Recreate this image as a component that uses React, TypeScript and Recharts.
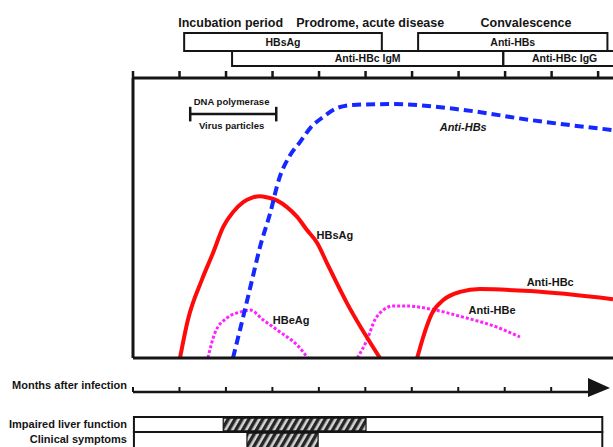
import React from 'react'
import { ComposedChart, Line, XAxis, YAxis, ReferenceArea, ReferenceLine, ReferenceDot } from 'recharts'

// months after infection, x axis runs a little past 10
const X_MAX = 10.32
const monthTicks = [0, 1, 2, 3, 4, 5, 6, 7, 8, 9, 10]

const phases = [
  { name: 'Incubation period', start: 0.9, end: 3.3 },
  { name: 'Prodrome, acute disease', start: 3.4, end: 6.8 },
  { name: 'Convalescence', start: 7.0, end: 9.9 },
]

// serology windows shown above the plot (row 0 = upper, row 1 = lower)
const markerWindows = [
  { name: 'HBsAg', start: 1.1, end: 5.35, row: 0 },
  { name: 'Anti-HBs', start: 6.13, end: 10.2, row: 0 },
  { name: 'Anti-HBc IgM', start: 2.13, end: 7.96, row: 1 },
  { name: 'Anti-HBc IgG', start: 7.96, end: 10.6, row: 1 },
]

// relative levels (0-100) against months
const hbsAg = [
  { m: 1.01, v: 0 }, { m: 1.18, v: 13.6 }, { m: 1.48, v: 27.9 }, { m: 1.72, v: 37.5 },
  { m: 1.94, v: 46.8 }, { m: 2.15, v: 52.1 }, { m: 2.37, v: 55.7 }, { m: 2.55, v: 57.2 },
  { m: 2.72, v: 57.8 }, { m: 2.9, v: 57.3 }, { m: 3.1, v: 56.2 }, { m: 3.31, v: 53.9 },
  { m: 3.53, v: 50.4 }, { m: 3.74, v: 45.7 }, { m: 3.96, v: 41.1 }, { m: 4.17, v: 33.9 },
  { m: 4.6, v: 19.6 }, { m: 5.31, v: 0 },
]
const antiHBc = [
  { m: 6.11, v: 0 }, { m: 6.24, v: 7.5 }, { m: 6.43, v: 16 }, { m: 6.67, v: 20.7 },
  { m: 7.03, v: 23.6 }, { m: 7.46, v: 24.6 }, { m: 8.54, v: 23.9 }, { m: 10.32, v: 21 },
]
const hbeAg = [
  { m: 1.61, v: 0 }, { m: 1.76, v: 8.9 }, { m: 2.02, v: 14.3 }, { m: 2.3, v: 16.4 },
  { m: 2.52, v: 17.1 }, { m: 2.8, v: 13.6 }, { m: 3.16, v: 9.3 }, { m: 3.53, v: 4.6 },
  { m: 3.76, v: 0 },
]
const antiHBe = [
  { m: 4.82, v: 0 }, { m: 5.03, v: 6.4 }, { m: 5.2, v: 13.6 }, { m: 5.38, v: 17.1 },
  { m: 5.59, v: 18.6 }, { m: 5.89, v: 18.6 }, { m: 6.39, v: 17.5 }, { m: 7.1, v: 14.6 },
  { m: 7.83, v: 11 }, { m: 8.32, v: 7.5 },
]
const antiHBs = [
  { m: 2.15, v: 0 }, { m: 2.41, v: 17.5 }, { m: 2.56, v: 27.9 }, { m: 2.73, v: 39.6 },
  { m: 2.95, v: 51.8 }, { m: 3.14, v: 63.9 }, { m: 3.38, v: 72.5 }, { m: 3.59, v: 77.1 },
  { m: 3.81, v: 82.1 }, { m: 4.09, v: 86.1 }, { m: 4.39, v: 89.3 }, { m: 4.73, v: 90.4 },
  { m: 5.59, v: 90.7 }, { m: 7.1, v: 88.6 }, { m: 8.54, v: 85 }, { m: 10.32, v: 81.4 },
]

// DNA polymerase / virus particles window
const viremia = { start: 1.23, end: 3.08, level: 87.1 }

const clinicalRows = ['Impaired liver function', 'Clinical symptoms']
const clinicalSpans = [
  { row: 0, start: 1.94, end: 5.01 },
  { row: 1, start: 2.45, end: 3.98 },
]

const INK = '#151515'
const FONT = '"Liberation Sans", Arial, sans-serif'

// axis frame data so the helper charts have something to lay out
const frame = monthTicks.map((m) => ({ m }))
const NoTick = () => <g />

function tag(key: string, x: number, y: number, text: string, size = 11, extra: any = {}) {
  return (
    <ReferenceDot
      key={key}
      x={x}
      y={y}
      r={0}
      fill="none"
      stroke="none"
      ifOverflow="visible"
      label={{ value: text, position: 'center', fill: INK, fontSize: size, fontWeight: 700, ...extra }}
    />
  )
}

const sideLabel = (text: string, dy: number) => (p: any) => (
  <text x={p.x} y={p.y} dy={dy} textAnchor="end" fill={INK} fontSize={11} fontWeight={700}>
    {text}
  </text>
)

const HEADER_ROWS = [[1.17, 2.17], [0.33, 1.17]]
const BAR_ROWS = [[1, 2], [-1, 1]]

export default function App() {
  return (
    <div style={{ position: 'absolute', left: 0, top: 0, width: 613, height: 447, overflow: 'hidden', background: '#fff', fontFamily: FONT }}>
      <svg width="0" height="0" style={{ position: 'absolute' }}>
        <defs>
          <pattern id="hatch" patternUnits="userSpaceOnUse" width="6" height="6" patternTransform="rotate(30)">
            <rect width="6" height="6" fill="#d4d4d4" />
            <rect width="3.4" height="6" fill="#262626" />
          </pattern>
        </defs>
      </svg>

      {/* phases and serology windows */}
      <div style={{ position: 'absolute', left: 0, top: 0 }}>
        <ComposedChart width={613} height={72} data={frame} margin={{ top: 0, right: 0, bottom: 0, left: 133 }}>
          <XAxis type="number" dataKey="m" domain={[0, X_MAX]} allowDataOverflow hide />
          <YAxis type="number" domain={[0, 4]} allowDataOverflow hide />
          {phases.map((p) => tag(p.name, (p.start + p.end) / 2, 2.72, p.name, 12.5))}
          {markerWindows.map((w) => (
            <ReferenceArea
              key={w.name}
              x1={w.start}
              x2={w.end}
              y1={HEADER_ROWS[w.row][0]}
              y2={HEADER_ROWS[w.row][1]}
              fill="none"
              fillOpacity={0}
              stroke={INK}
              strokeWidth={2}
              strokeOpacity={1}
              ifOverflow="visible"
              label={{ value: w.name, position: 'center', fill: INK, fontSize: 10.5, fontWeight: 700 }}
            />
          ))}
        </ComposedChart>
      </div>

      {/* main plot */}
      <div style={{ position: 'absolute', left: 0, top: 64 }}>
        <ComposedChart width={613} height={296} margin={{ top: 0, right: 0, bottom: 1, left: 132 }}>
          <XAxis
            xAxisId="top"
            orientation="top"
            type="number"
            dataKey="m"
            domain={[0, X_MAX]}
            allowDataOverflow
            ticks={monthTicks}
            interval={0}
            tick={NoTick}
            tickSize={7}
            height={14}
            axisLine={{ stroke: INK, strokeWidth: 3 }}
            tickLine={{ stroke: INK, strokeWidth: 2.5 }}
          />
          <XAxis
            type="number"
            dataKey="m"
            domain={[0, X_MAX]}
            allowDataOverflow
            tick={NoTick}
            tickLine={false}
            height={1}
            axisLine={{ stroke: INK, strokeWidth: 3 }}
          />
          <YAxis type="number" domain={[0, 100]} allowDataOverflow width={1} tick={NoTick} tickLine={false} axisLine={{ stroke: INK, strokeWidth: 3 }} />

          <Line data={hbeAg} dataKey="v" type="monotone" stroke="#ff22ff" strokeWidth={3} strokeDasharray="3 2" dot={false} isAnimationActive={false} />
          <Line data={antiHBe} dataKey="v" type="monotone" stroke="#ff22ff" strokeWidth={3} strokeDasharray="3 2" dot={false} isAnimationActive={false} />
          <Line data={hbsAg} dataKey="v" type="monotone" stroke="#ff0a0a" strokeWidth={4} dot={false} isAnimationActive={false} />
          <Line data={antiHBc} dataKey="v" type="monotone" stroke="#ff0a0a" strokeWidth={4} dot={false} isAnimationActive={false} />
          <Line data={antiHBs} dataKey="v" type="monotone" stroke="#1428ff" strokeWidth={4} strokeDasharray="9 5" dot={false} isAnimationActive={false} />

          <ReferenceLine segment={[{ x: viremia.start, y: viremia.level }, { x: viremia.end, y: viremia.level }]} stroke={INK} strokeWidth={2.5} ifOverflow="visible" />
          <ReferenceLine segment={[{ x: viremia.start, y: viremia.level - 2.6 }, { x: viremia.start, y: viremia.level + 2.6 }]} stroke={INK} strokeWidth={2.5} ifOverflow="visible" />
          <ReferenceLine segment={[{ x: viremia.end, y: viremia.level - 2.6 }, { x: viremia.end, y: viremia.level + 2.6 }]} stroke={INK} strokeWidth={2.5} ifOverflow="visible" />
          {tag('dna', 2.12, 91.4, 'DNA polymerase', 9.5)}
          {tag('virus', 2.12, 82.9, 'Virus particles', 9.5)}

          {tag('l-antihbs', 7.1, 82.5, 'Anti-HBs', 11, { fontStyle: 'italic' })}
          {tag('l-hbsag', 4.34, 43.9, 'HBsAg')}
          {tag('l-hbeag', 3.4, 13.6, 'HBeAg')}
          {tag('l-antihbc', 8.97, 27.1, 'Anti-HBc')}
          {tag('l-antihbe', 7.72, 17.1, 'Anti-HBe')}
        </ComposedChart>
      </div>

      {/* months after infection axis */}
      <div style={{ position: 'absolute', left: 0, top: 372 }}>
        <ComposedChart width={613} height={30} data={frame} margin={{ top: 14, right: 20, bottom: 0, left: 0 }}>
          <XAxis
            orientation="top"
            type="number"
            dataKey="m"
            domain={[0, 9.9]}
            allowDataOverflow
            ticks={monthTicks.slice(0, 10)}
            interval={0}
            tick={NoTick}
            tickSize={5}
            height={6}
            axisLine={{ stroke: INK, strokeWidth: 2.5 }}
            tickLine={{ stroke: INK, strokeWidth: 2 }}
          />
          <YAxis
            type="number"
            domain={[0, 1]}
            allowDataOverflow
            ticks={[1]}
            interval={0}
            width={133}
            tickSize={6}
            tickMargin={0}
            axisLine={false}
            tickLine={false}
            tick={sideLabel('Months after infection', -3)}
          />
          <ReferenceDot
            x={9.9}
            y={1}
            r={0}
            ifOverflow="visible"
            shape={(p: any) => (
              <path d={`M${p.cx - 5},${p.cy - 14} L${p.cx + 17},${p.cy - 4} L${p.cx - 5},${p.cy + 5} Z`} fill={INK} />
            )}
          />
        </ComposedChart>
      </div>

      {/* liver function / symptoms */}
      <div style={{ position: 'absolute', left: 0, top: 415 }}>
        <ComposedChart width={613} height={32} data={frame} margin={{ top: 2, right: 0, bottom: 0, left: 0 }}>
          <XAxis type="number" dataKey="m" domain={[0, X_MAX]} allowDataOverflow hide />
          <YAxis
            type="number"
            domain={[0, 2]}
            allowDataOverflow
            ticks={[1.5, 0.5]}
            interval={0}
            width={133}
            tickSize={6}
            tickMargin={0}
            axisLine={false}
            tickLine={false}
            tick={(p: any) => sideLabel(p.payload.value > 1 ? clinicalRows[0] : clinicalRows[1], 3)(p)}
          />
          {clinicalRows.map((r, i) => (
            <ReferenceArea
              key={r}
              x1={0.02}
              x2={10.09}
              y1={BAR_ROWS[i][0]}
              y2={BAR_ROWS[i][1]}
              fill="none"
              fillOpacity={0}
              stroke={INK}
              strokeWidth={2}
              strokeOpacity={1}
              ifOverflow="visible"
            />
          ))}
          {clinicalSpans.map((s, i) => (
            <ReferenceArea
              key={i}
              x1={s.start}
              x2={s.end}
              y1={BAR_ROWS[s.row][0] + (s.row === 0 ? 0.07 : 0)}
              y2={BAR_ROWS[s.row][1] - 0.07}
              fill="url(#hatch)"
              fillOpacity={1}
              stroke={INK}
              strokeWidth={1.2}
              strokeOpacity={1}
              ifOverflow="visible"
            />
          ))}
        </ComposedChart>
      </div>
    </div>
  )
}
